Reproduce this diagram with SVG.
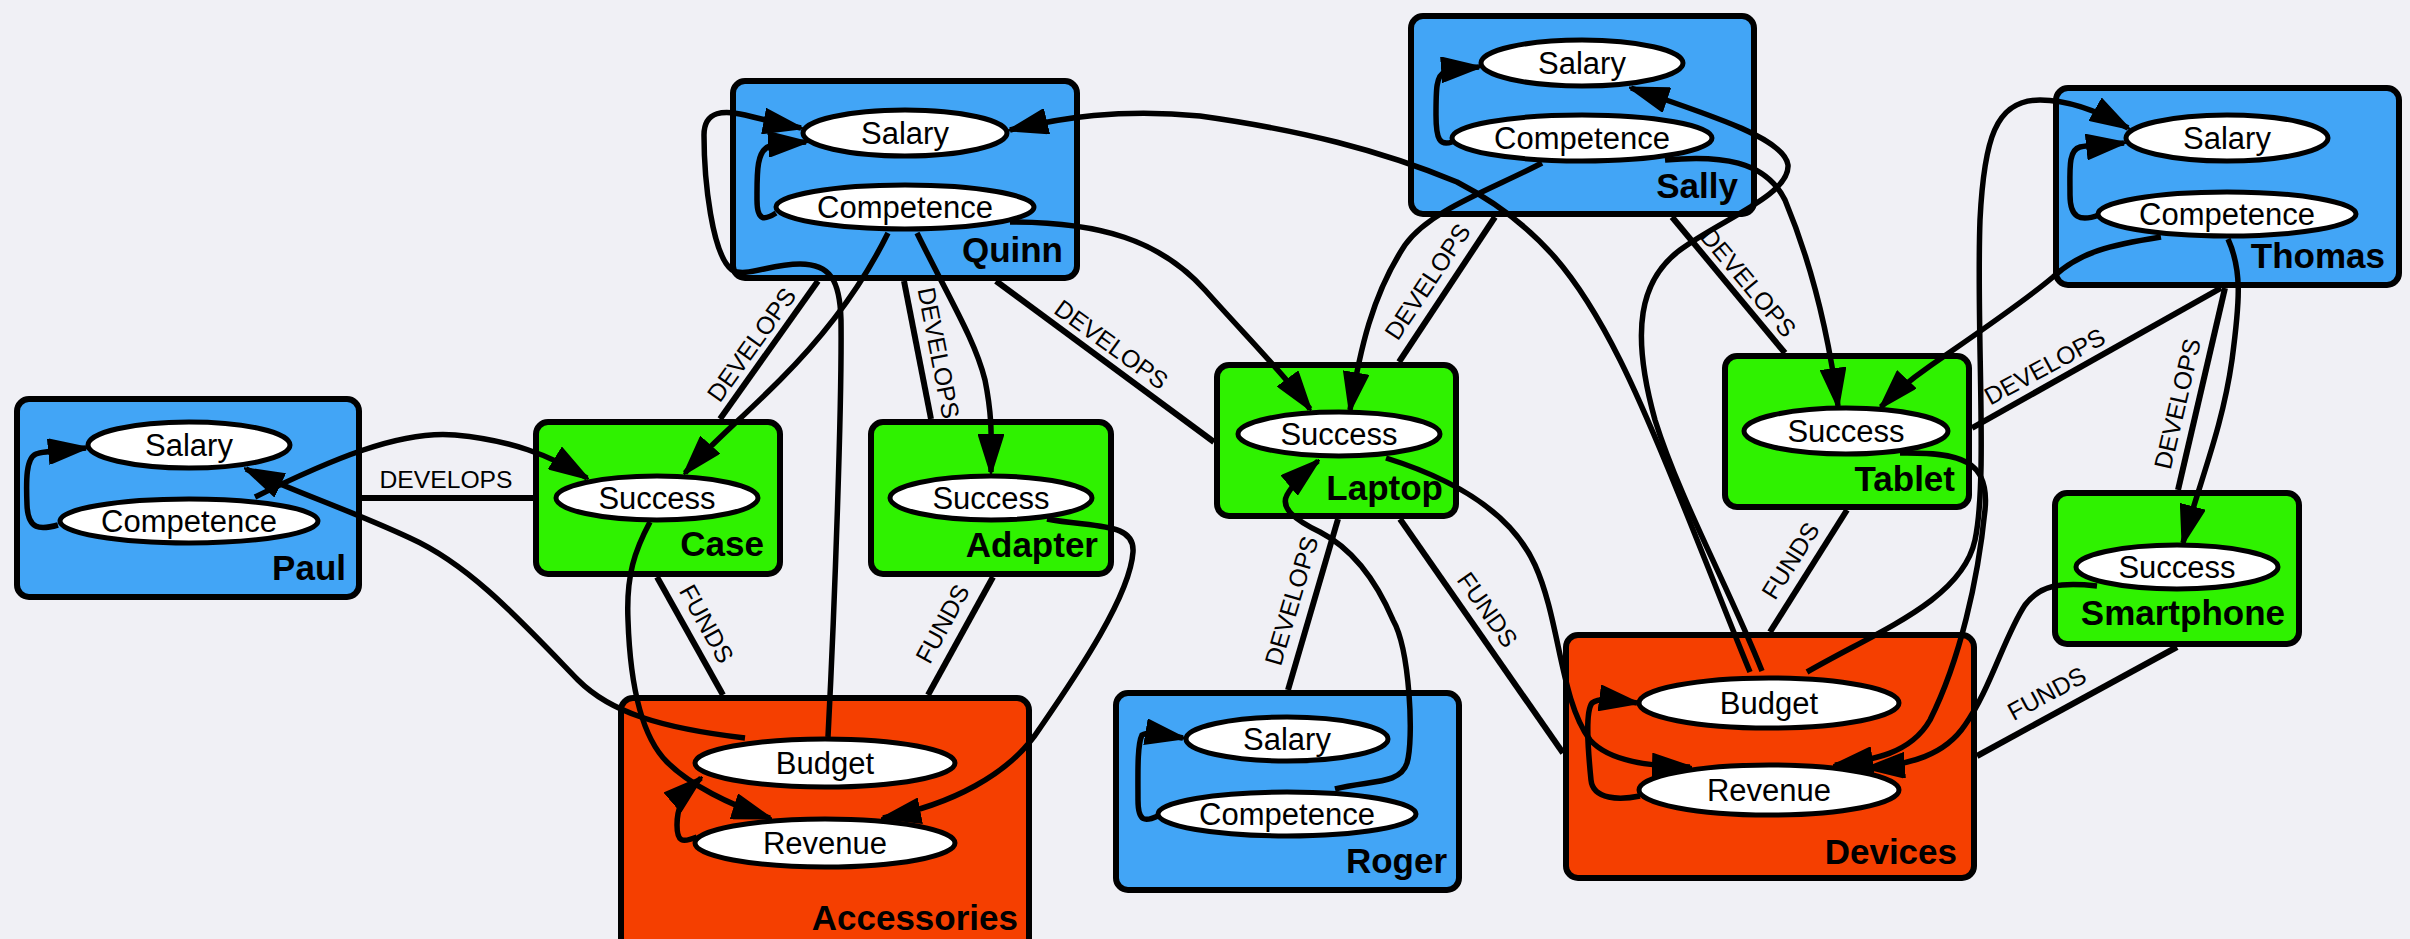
<svg xmlns="http://www.w3.org/2000/svg" width="2410" height="939" viewBox="0 0 2410 939">
  <defs>
    <style>
      .box{stroke:#000;stroke-width:6}
      .person{fill:#42A5F6}
      .product{fill:#2FF200}
      .company{fill:#F53F00}
      .attr{fill:#fff;stroke:#000;stroke-width:5}
      text{font-family:"Liberation Sans",Arial,sans-serif;fill:#000}
      .attr-label{font-size:31px;text-anchor:middle}
      .node-label{font-size:35px;font-weight:bold;text-anchor:end}
      .link{fill:none;stroke:#000;stroke-width:6}
      .flow{fill:none;stroke:#000;stroke-width:5.5;marker-end:url(#arrow)}
      .link-label{font-size:24.7px;text-anchor:middle}
    </style>
    <marker id="arrow" viewBox="0 0 40 26" refX="38" refY="13" markerWidth="40" markerHeight="26" markerUnits="userSpaceOnUse" orient="auto">
      <path d="M1.5,1.5 L38,13 L1.5,24.5 z" fill="#000" stroke="#000" stroke-width="3" stroke-linejoin="miter"/>
    </marker>
  </defs>

  <rect width="2410" height="939" fill="#F0F0F5"/>

  <!-- people -->
  <g id="paul">
    <rect class="box person" x="17" y="399" width="342" height="198" rx="12"/>
    <ellipse class="attr" cx="189" cy="445" rx="101" ry="23"/>
    <text class="attr-label" x="189" y="456">Salary</text>
    <ellipse class="attr" cx="189" cy="521" rx="129" ry="22"/>
    <text class="attr-label" x="189" y="532">Competence</text>
    <text class="node-label" x="346" y="580">Paul</text>
  </g>
  <g id="quinn">
    <rect class="box person" x="733" y="81" width="344" height="197" rx="12"/>
    <ellipse class="attr" cx="905" cy="133" rx="102" ry="23"/>
    <text class="attr-label" x="905" y="144">Salary</text>
    <ellipse class="attr" cx="905" cy="207" rx="129" ry="22"/>
    <text class="attr-label" x="905" y="218">Competence</text>
    <text class="node-label" x="1063" y="262">Quinn</text>
  </g>
  <g id="sally">
    <rect class="box person" x="1411" y="16" width="343" height="198" rx="12"/>
    <ellipse class="attr" cx="1582" cy="63" rx="101" ry="23"/>
    <text class="attr-label" x="1582" y="74">Salary</text>
    <ellipse class="attr" cx="1582" cy="138" rx="130" ry="23"/>
    <text class="attr-label" x="1582" y="149">Competence</text>
    <text class="node-label" x="1738" y="198">Sally</text>
  </g>
  <g id="roger">
    <rect class="box person" x="1116" y="693" width="343" height="197" rx="12"/>
    <ellipse class="attr" cx="1287" cy="739" rx="101" ry="22"/>
    <text class="attr-label" x="1287" y="750">Salary</text>
    <ellipse class="attr" cx="1287" cy="814" rx="129" ry="22"/>
    <text class="attr-label" x="1287" y="825">Competence</text>
    <text class="node-label" x="1447" y="873">Roger</text>
  </g>
  <g id="thomas">
    <rect class="box person" x="2056" y="88" width="343" height="197" rx="12"/>
    <ellipse class="attr" cx="2227" cy="138" rx="101" ry="23"/>
    <text class="attr-label" x="2227" y="149">Salary</text>
    <ellipse class="attr" cx="2227" cy="214" rx="129" ry="22"/>
    <text class="attr-label" x="2227" y="225">Competence</text>
    <text class="node-label" x="2385" y="268">Thomas</text>
  </g>

  <!-- products -->
  <g id="case">
    <rect class="box product" x="536" y="422" width="244" height="152" rx="12"/>
    <ellipse class="attr" cx="657" cy="498" rx="101" ry="22"/>
    <text class="attr-label" x="657" y="509">Success</text>
    <text class="node-label" x="764" y="556">Case</text>
  </g>
  <g id="adapter">
    <rect class="box product" x="871" y="422" width="240" height="152" rx="12"/>
    <ellipse class="attr" cx="991" cy="498" rx="101" ry="22"/>
    <text class="attr-label" x="991" y="509">Success</text>
    <text class="node-label" x="1098" y="557">Adapter</text>
  </g>
  <g id="laptop">
    <rect class="box product" x="1217" y="365" width="239" height="151" rx="12"/>
    <ellipse class="attr" cx="1339" cy="434" rx="101" ry="22"/>
    <text class="attr-label" x="1339" y="445">Success</text>
    <text class="node-label" x="1443" y="500">Laptop</text>
  </g>
  <g id="tablet">
    <rect class="box product" x="1725" y="356" width="244" height="151" rx="12"/>
    <ellipse class="attr" cx="1846" cy="431" rx="102" ry="23"/>
    <text class="attr-label" x="1846" y="442">Success</text>
    <text class="node-label" x="1955" y="491">Tablet</text>
  </g>
  <g id="smartphone">
    <rect class="box product" x="2055" y="493" width="244" height="151" rx="12"/>
    <ellipse class="attr" cx="2177" cy="567" rx="101" ry="22"/>
    <text class="attr-label" x="2177" y="578">Success</text>
    <text class="node-label" x="2285" y="625">Smartphone</text>
  </g>

  <!-- companies -->
  <g id="accessories">
    <rect class="box company" x="621" y="698" width="408" height="262" rx="12"/>
    <ellipse class="attr" cx="825" cy="763" rx="130" ry="24"/>
    <text class="attr-label" x="825" y="774">Budget</text>
    <ellipse class="attr" cx="825" cy="843" rx="130" ry="24"/>
    <text class="attr-label" x="825" y="854">Revenue</text>
    <text class="node-label" x="1018" y="930">Accessories</text>
  </g>
  <g id="devices">
    <rect class="box company" x="1566" y="635" width="408" height="243" rx="12"/>
    <ellipse class="attr" cx="1769" cy="703" rx="130" ry="25"/>
    <text class="attr-label" x="1769" y="714">Budget</text>
    <ellipse class="attr" cx="1769" cy="790" rx="130" ry="25"/>
    <text class="attr-label" x="1769" y="801">Revenue</text>
    <text class="node-label" x="1957" y="864">Devices</text>
  </g>

  <g id="connectors">
    <!-- DEVELOPS / FUNDS relations between boxes -->
    <path class="link" d="M362,498 L533,498"/>
    <text class="link-label" x="446" y="488">DEVELOPS</text>
    <path class="link" d="M818,281 L720,419"/>
    <text class="link-label" transform="translate(752,345) rotate(-54.4)" y="8">DEVELOPS</text>
    <path class="link" d="M904,281 L931,419"/>
    <text class="link-label" transform="translate(938,353) rotate(79)" y="8">DEVELOPS</text>
    <path class="link" d="M996,281 L1214,442"/>
    <text class="link-label" transform="translate(1111,345) rotate(36)" y="8">DEVELOPS</text>
    <path class="link" d="M657,577 L723,695"/>
    <text class="link-label" transform="translate(706,624) rotate(61)" y="8">FUNDS</text>
    <path class="link" d="M993,577 L928,695"/>
    <text class="link-label" transform="translate(943,624) rotate(-61.5)" y="8">FUNDS</text>
    <path class="link" d="M1495,217 L1399,362"/>
    <text class="link-label" transform="translate(1428,282) rotate(-56.3)" y="8">DEVELOPS</text>
    <path class="link" d="M1672,217 L1785,353"/>
    <text class="link-label" transform="translate(1748,283) rotate(50)" y="8">DEVELOPS</text>
    <path class="link" d="M1288,690 L1338,519"/>
    <text class="link-label" transform="translate(1292,601) rotate(-73.4)" y="8">DEVELOPS</text>
    <path class="link" d="M1400,519 L1563,753"/>
    <text class="link-label" transform="translate(1487,610) rotate(55)" y="8">FUNDS</text>
    <path class="link" d="M1847,510 L1770,632"/>
    <text class="link-label" transform="translate(1791,561) rotate(-57.7)" y="8">FUNDS</text>
    <path class="link" d="M2221,288 L1972,428"/>
    <text class="link-label" transform="translate(2045,367) rotate(-28.5)" y="8">DEVELOPS</text>
    <path class="link" d="M2225,288 L2178,490"/>
    <text class="link-label" transform="translate(2178,404) rotate(-76.8)" y="8">DEVELOPS</text>
    <path class="link" d="M2177,647 L1977,756"/>
    <text class="link-label" transform="translate(2047,694) rotate(-28.4)" y="8">FUNDS</text>

    <!-- competence raises salary -->
    <path class="flow" d="M58,525 C40,530 28,530 27,505 C26,480 26,458 36,454 C44,451 55,451 86,448"/>
    <path class="flow" d="M776,213 C765,220 757,222 757,200 C757,175 756,150 770,146 C780,143 790,143 806,142"/>
    <path class="flow" d="M1452,142 C1440,146 1436,140 1436,115 C1436,90 1436,75 1445,72 C1455,69 1465,68 1479,67"/>
    <path class="flow" d="M2099,215 C2080,222 2070,218 2070,195 C2070,170 2068,150 2080,147 C2090,145 2105,145 2124,143"/>
    <path class="flow" d="M1158,816 C1145,822 1138,822 1138,800 C1138,775 1137,745 1142,735 C1150,730 1165,735 1183,738"/>

    <!-- revenue feeds budget -->
    <path class="flow" d="M697,837 C682,843 677,842 677,825 C677,812 680,796 701,778"/>
    <path class="flow" d="M1640,796 C1620,800 1593,800 1591,780 C1588,750 1585,712 1592,703 C1600,697 1615,700 1637,703"/>

    <!-- competence drives product success -->
    <path class="flow" d="M255,497 C330,460 400,430 455,435 C510,440 550,455 587,478"/>
    <path class="flow" d="M888,233 C860,290 820,340 780,380 C740,420 710,445 685,473"/>
    <path class="flow" d="M917,233 C950,300 975,340 985,380 C993,420 991,440 991,472"/>
    <path class="flow" d="M1010,222 C1100,222 1160,240 1205,290 C1245,335 1285,375 1310,409"/>
    <path class="flow" d="M1542,163 C1490,190 1430,210 1405,245 C1372,295 1360,350 1350,410"/>
    <path class="flow" d="M1665,160 C1720,155 1765,160 1785,200 C1810,260 1828,330 1838,406"/>
    <path class="flow" d="M2161,237 C2110,245 2080,252 2053,277 C2020,305 1960,345 1930,366 C1910,380 1895,392 1881,407"/>
    <path class="flow" d="M2228,239 C2242,270 2240,300 2232,360 C2222,430 2200,480 2183,543"/>
    <path class="flow" d="M1335,789 C1370,780 1400,785 1407,763 C1414,740 1410,650 1393,620 C1378,585 1355,550 1320,532 C1295,520 1280,508 1287,495 C1293,484 1305,472 1318,461"/>

    <!-- success brings revenue -->
    <path class="flow" d="M650,522 C635,550 626,575 628,620 C630,680 640,735 667,762 C690,785 730,805 770,818"/>
    <path class="flow" d="M1047,519 C1095,528 1135,522 1133,552 C1130,595 1080,670 1040,728 C1010,775 950,805 883,818"/>
    <path class="flow" d="M1386,458 C1450,478 1510,510 1535,565 C1560,620 1560,700 1590,740 C1610,762 1650,766 1690,767"/>
    <path class="flow" d="M1900,453 C1960,452 1990,460 1985,510 C1978,580 1960,660 1930,720 C1910,755 1870,760 1835,765"/>
    <path class="flow" d="M2097,586 C2060,582 2040,585 2025,605 C2005,635 1990,690 1965,725 C1945,755 1910,765 1867,768"/>

    <!-- budget pays salary -->
    <path class="flow" d="M745,738 C660,728 610,712 578,680 C520,620 470,565 410,538 C350,510 290,490 246,469"/>
    <path class="flow" d="M828,737 C835,600 842,400 841,320 C840,280 830,264 800,264 C770,264 745,278 732,270 C712,255 704,180 704,135 C704,110 725,110 745,115 C765,120 785,125 801,128"/>
    <path class="flow" d="M1750,672 C1720,600 1660,440 1620,360 C1580,280 1540,225 1457,182 C1380,150 1300,130 1200,116 C1120,108 1060,118 1010,130"/>
    <path class="flow" d="M1762,671 C1730,590 1680,500 1655,420 C1630,330 1640,280 1680,250 C1720,220 1790,195 1788,165 C1785,140 1720,118 1631,88"/>
    <path class="flow" d="M1807,672 C1880,630 1962,600 1975,540 C1988,480 1976,330 1980,220 C1984,140 1995,100 2040,100 C2070,100 2100,112 2128,128"/>
  </g>
</svg>
